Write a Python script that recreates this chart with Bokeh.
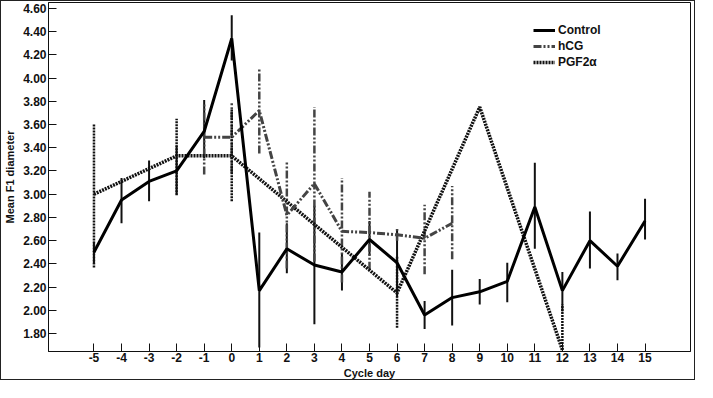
from bokeh.plotting import figure
from bokeh.models import Range1d, FixedTicker, NumeralTickFormatter, Legend, LegendItem
from bokeh.embed import file_html
from bokeh.resources import INLINE

# ---- data ----
ctrl_days = [-5, -4, -3, -2, -1, 0, 1, 2, 3, 4, 5, 6, 7, 8, 9, 10, 11, 12, 13, 14, 15]
ctrl_mean = [2.50, 2.95, 3.11, 3.20, 3.54, 4.34, 2.17, 2.53, 2.39, 2.33, 2.61, 2.41, 1.96, 2.11, 2.16, 2.25, 2.89, 2.17, 2.60, 2.38, 2.77]
ctrl_lo = [2.40, 2.75, 2.94, 3.00, 3.31, 4.15, 1.68, 2.32, 1.88, 2.17, 2.47, 2.11, 1.84, 1.87, 2.05, 2.07, 2.53, 1.99, 2.36, 2.26, 2.61]
ctrl_hi = [2.59, 3.14, 3.29, 3.42, 3.81, 4.54, 2.67, 2.75, 2.90, 2.49, 2.77, 2.70, 2.08, 2.35, 2.27, 2.41, 3.27, 2.33, 2.85, 2.49, 2.96]

hcg_days = [-1, 0, 1, 2, 3, 4, 5, 6, 7, 8]
hcg_mean = [3.49, 3.49, 3.72, 2.82, 3.09, 2.68, 2.67, 2.65, 2.62, 2.75]
hcg_lo = [3.17, 3.18, 3.35, 2.36, 2.42, 2.24, 2.35, 2.60, 2.31, 2.44]
hcg_hi = [3.79, 3.79, 4.08, 3.28, 3.75, 3.14, 3.02, 2.70, 2.91, 3.07]

pgf_days = [-5, -2, 0, 6, 9, 12]
pgf_mean = [3.00, 3.33, 3.33, 2.15, 3.75, 1.66]
pgf_lo = [2.37, 2.99, 2.94, 1.85, 3.75, 1.40]
pgf_hi = [3.60, 3.65, 3.73, 2.47, 3.75, 2.05]

x_ticks = list(range(-5, 16))
x_tick_labels = [str(d) for d in x_ticks]
y_ticks = [1.8, 2.0, 2.2, 2.4, 2.6, 2.8, 3.0, 3.2, 3.4, 3.6, 3.8, 4.0, 4.2, 4.4, 4.6]

FONT = "Liberation Sans"

p = figure(width=695, height=380, output_backend="svg", toolbar_location=None,
           x_range=Range1d(-6.65, 16.65), y_range=Range1d(1.646, 4.65),
           min_border_left=40, min_border_right=6, min_border_top=1, min_border_bottom=0)
p.styles = {"border": "1px solid #222"}
p.background_fill_color = "white"
p.border_fill_color = "white"
p.outline_line_color = "#111"
p.outline_line_width = 1
p.xgrid.visible = False
p.ygrid.visible = False

for ax in (p.xaxis[0], p.yaxis[0]):
    ax.major_tick_in = 8
    ax.major_tick_out = 0
    ax.minor_tick_line_color = None
    ax.axis_line_color = "#111"
    ax.major_tick_line_color = "#111"
    ax.major_label_text_font = FONT
    ax.major_label_text_font_size = "12px"
    ax.major_label_text_font_style = "bold"
    ax.major_label_text_color = "#111"
    ax.axis_label_text_font = FONT
    ax.axis_label_text_font_size = "11px"
    ax.axis_label_text_font_style = "bold"
    ax.axis_label_text_color = "#111"

p.xaxis.ticker = FixedTicker(ticks=x_ticks)
p.xaxis.major_label_overrides = dict(zip(x_ticks, x_tick_labels))
p.yaxis.ticker = FixedTicker(ticks=y_ticks)
p.yaxis.formatter = NumeralTickFormatter(format="0.00")
p.xaxis.axis_label = "Cycle day"
p.yaxis.axis_label = "Mean F1 diameter"
p.xaxis.major_label_standoff = 1
p.yaxis.major_label_standoff = 2
p.xaxis.axis_label_standoff = 2
p.yaxis.axis_label_standoff = 4

# error bars
p.segment(ctrl_days, ctrl_lo, ctrl_days, ctrl_hi, line_color="#111", line_width=2)
p.segment(hcg_days, hcg_lo, hcg_days, hcg_hi, line_color="#444", line_width=2.5, line_dash="8 2 2 2 2 2")
p.segment(pgf_days, pgf_lo, pgf_days, pgf_hi, line_color="#111", line_width=2.5, line_dash="2 1")

# mean lines
r_pgf = p.line(pgf_days, pgf_mean, line_color="#111", line_width=3.5, line_dash="2 1")
r_hcg = p.line(hcg_days, hcg_mean, line_color="#444", line_width=3, line_dash="8 2 2 2 2 2")
r_ctrl = p.line(ctrl_days, ctrl_mean, line_color="#000", line_width=3)

legend = Legend(items=[LegendItem(label="Control", renderers=[r_ctrl]),
                       LegendItem(label="hCG", renderers=[r_hcg]),
                       LegendItem(label="PGF2α", renderers=[r_pgf])],
                location=(485, 281), padding=0, margin=0, spacing=0,
                glyph_width=22, glyph_height=16, label_height=16, label_standoff=3,
                border_line_color=None, background_fill_alpha=0,
                label_text_font=FONT, label_text_font_size="12px",
                label_text_font_style="bold", label_text_color="#111")
p.add_layout(legend, "center")

open("out.html", "w").write(file_html(p, INLINE))
